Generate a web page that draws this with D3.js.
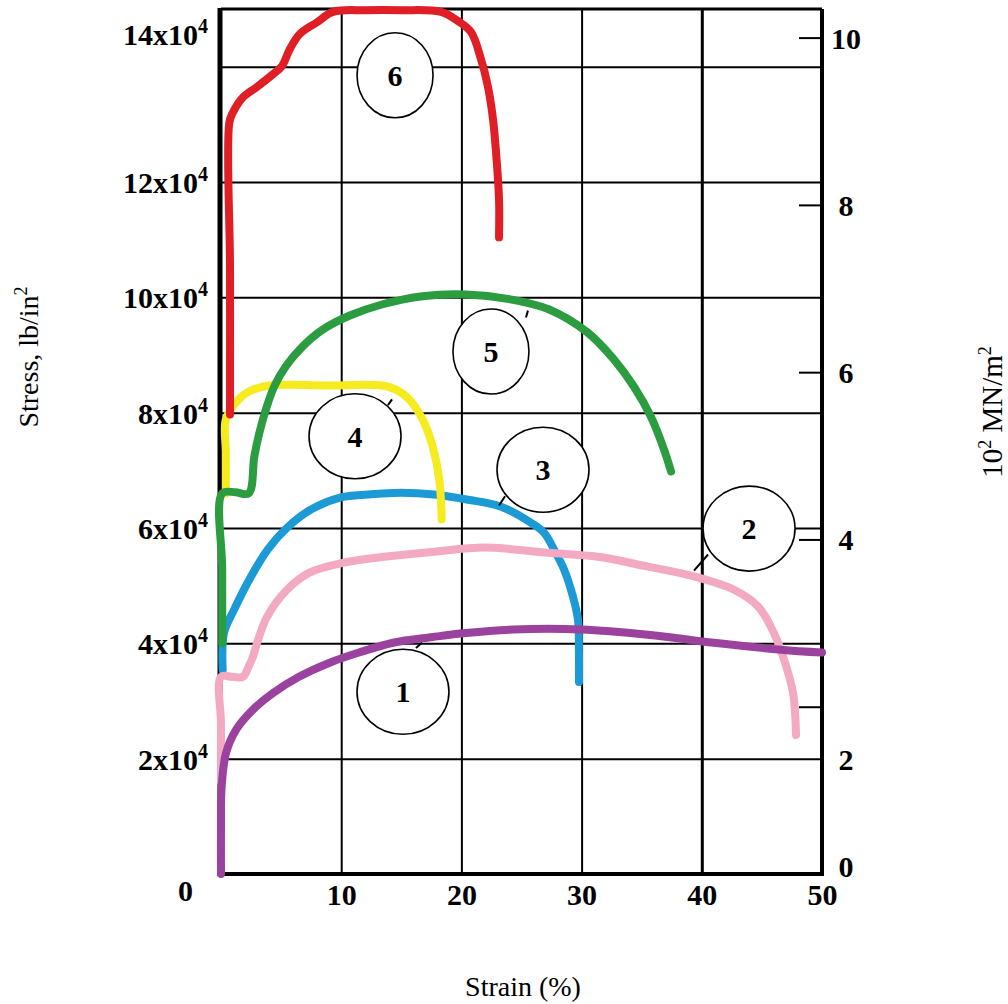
<!DOCTYPE html>
<html>
<head>
<meta charset="utf-8">
<script src="https://cdn.jsdelivr.net/npm/d3@7"></script>
<style>
  body { margin: 0; background: #fff; }
  svg { display: block; }
  text { font-family: "Liberation Serif", "Times New Roman", serif; }
</style>
</head>
<body>
<svg id="chart" width="1008" height="1004"></svg>
<script>
// strain in %, stress in 10^4 lb/in^2
const strainTicks = [10, 20, 30, 40, 50];
const stressTicks = [2, 4, 6, 8, 10, 12, 14];
const mnTicks = [0, 2, 4, 6, 8, 10];
const psiPerMN = 1.4504; // 1 x 10^2 MN/m^2 = 1.4504 x 10^4 lb/in^2

const curve1 = [[0,0],[0,0.8],[0.05,1.5],[0.42,2.1],[1.25,2.5],[2.66,2.85],[4.33,3.14],[6.49,3.42],[8.99,3.66],[11.48,3.84],[14.31,4.01],[17.64,4.11],[20.38,4.18],[24.38,4.24],[29.95,4.24],[35.52,4.15],[41.01,4.01],[46.59,3.89],[50,3.84]];
const curve2 = [[0,1.6],[0,2.6],[0,3.42],[0.9,3.42],[1.83,3.42],[2.3,3.6],[2.66,3.77],[3.08,4.06],[3.83,4.46],[5.49,4.93],[7.4,5.23],[10.23,5.4],[13.56,5.5],[17.72,5.59],[21.88,5.66],[27.2,5.57],[31.36,5.5],[35.52,5.33],[39.35,5.16],[42.68,4.93],[44.68,4.64],[46.0,4.18],[46.84,3.72],[47.59,3.14],[47.84,2.41]];
const curve3 = [[0.14,3.54],[0.25,4.18],[1.08,4.58],[2.5,5.16],[3.9,5.63],[5.57,6.02],[7.49,6.32],[9.98,6.53],[12.23,6.58],[14.98,6.61],[17.72,6.58],[20.55,6.49],[23.3,6.37],[25.8,6.09],[26.87,5.92],[27.7,5.63],[28.54,5.28],[29.28,4.81],[29.7,4.41],[29.78,3.84],[29.78,3.33]];
const curve4 = [[0.4,6.6],[0.4,7.3],[0.4,7.88],[1.25,8.18],[2.36,8.37],[4.0,8.47],[8.7,8.47],[13.45,8.47],[14.56,8.4],[15.66,8.23],[16.78,7.88],[17.6,7.42],[18.16,6.84],[18.36,6.15]];
const curve5 = [[0.1,4.0],[0.1,5.3],[0.1,6.6],[1.2,6.62],[2.3,6.6],[2.77,7.24],[3.19,7.65],[3.74,8.06],[4.44,8.46],[5.41,8.81],[6.8,9.15],[8.46,9.44],[10.67,9.68],[13.45,9.88],[16.78,10.02],[20.38,10.05],[23.98,9.97],[27.3,9.79],[30.5,9.39],[32.7,8.92],[34.36,8.45],[35.77,7.93],[36.86,7.36],[37.44,6.98]];
const curve6 = [[0.75,7.97],[0.75,10.5],[0.7,13.04],[1.0,13.21],[1.83,13.47],[3.0,13.65],[4.33,13.87],[5.07,14.01],[5.74,14.31],[6.57,14.57],[7.99,14.77],[9.32,14.95],[12,14.98],[15,14.98],[18.3,14.95],[19.72,14.79],[20.8,14.6],[21.63,14.13],[22.2,13.66],[22.63,13.09],[22.88,12.52],[23.13,11.7],[23.13,11.04]];

// drawn bottom to top
const series = [
  { id: "3", points: curve3, color: "#1b9ad6" },
  { id: "2", points: curve2, color: "#f4a9c3" },
  { id: "1", points: curve1, color: "#9a429e" },
  { id: "4", points: curve4, color: "#f6eb1f" },
  { id: "5", points: curve5, color: "#2b9c40" },
  { id: "6", points: curve6, color: "#e01e26" }
];

// circled numbers: centre and a short leader toward the curve
const bubbles = [
  { id: "1", x: 15.14, y: 3.16, leader: [16.72, 4.01, 16.22, 3.92] },
  { id: "2", x: 43.93, y: 5.99, leader: [40.52, 5.54, 39.35, 5.26] },
  { id: "3", x: 26.79, y: 7.01, leader: [23.63, 6.55, 23.13, 6.39] },
  { id: "4", x: 11.15, y: 7.59, leader: [14.23, 8.23, 13.89, 8.13] },
  { id: "5", x: 22.46, y: 9.06, leader: [25.54, 9.77, 25.37, 9.65] },
  { id: "6", x: 14.48, y: 13.85, leader: null }
];

const svg = d3.select("#chart");
const pLeft = 221, pRight = 822, pTop = 9, pBottom = 874;

const x = d3.scaleLinear().domain([0, 50]).range([pLeft, pRight]);
const y = d3.scaleLinear().domain([0, 15]).range([pBottom, pTop]);
const yMN = d3.scaleLinear().domain([0, 15 / psiPerMN]).range([pBottom, pTop]);

// grid
svg.append("g")
  .attr("transform", "translate(0," + pBottom + ")")
  .call(d3.axisBottom(x).tickValues([10, 20, 30, 40]).tickSize(-(pBottom - pTop)).tickFormat(""))
  .call(g => g.select(".domain").remove())
  .call(g => g.selectAll("line").attr("stroke", "#000").attr("stroke-width", d => d === 40 ? 3 : 2));

svg.append("g")
  .attr("transform", "translate(" + pLeft + ",0)")
  .call(d3.axisLeft(y).tickValues(stressTicks).tickSize(-(pRight - pLeft)).tickFormat(""))
  .call(g => g.select(".domain").remove())
  .call(g => g.selectAll("line").attr("stroke", "#000").attr("stroke-width", 2));

// right-hand MN/m^2 ticks, pointing inward
const rightAxis = svg.append("g")
  .attr("transform", "translate(" + pRight + ",0)")
  .call(d3.axisRight(yMN).tickValues(mnTicks).tickSize(-23).tickPadding(0))
  .call(g => g.select(".domain").remove());
rightAxis.selectAll("line").attr("stroke", "#000").attr("stroke-width", 2);
rightAxis.selectAll("text")
  .attr("x", 24)
  // the original prints the "2" beside the 2x10^4 lb/in^2 line, and "0" just above the base
  .attr("y", d => d === 2 ? y(2) - yMN(2) : d === 0 ? -8 : 0)
  .attr("dy", "0.35em")
  .attr("text-anchor", "middle")
  .attr("fill", "#000")
  .style("font-family", "'Liberation Serif', serif")
  .style("font-weight", "bold").style("font-size", "30px");

// frame
const frame = svg.append("g").attr("stroke", "#000").attr("fill", "none");
frame.append("line").attr("x1", pLeft).attr("x2", pRight).attr("y1", pTop).attr("y2", pTop).attr("stroke-width", 3);
frame.append("line").attr("x1", pRight).attr("x2", pRight).attr("y1", pTop).attr("y2", pBottom).attr("stroke-width", 4);
frame.append("line").attr("x1", pLeft - 2).attr("x2", pRight + 2).attr("y1", pBottom).attr("y2", pBottom).attr("stroke-width", 4);
frame.append("line").attr("x1", pLeft - 1).attr("x2", pLeft - 1).attr("y1", pTop - 1).attr("y2", pBottom + 2).attr("stroke-width", 5);

// curves
const line = d3.line()
  .x(d => x(d[0]))
  .y(d => y(d[1]))
  .curve(d3.curveCatmullRom.alpha(0.5));

svg.append("g").selectAll("path")
  .data(series)
  .join("path")
  .attr("d", d => line(d.points))
  .attr("fill", "none")
  .attr("stroke", d => d.color)
  .attr("stroke-width", 8)
  .attr("stroke-linecap", "round")
  .attr("stroke-linejoin", "round");

// bottom axis labels
const xAxis = svg.append("g")
  .attr("transform", "translate(0," + pBottom + ")")
  .call(d3.axisBottom(x).tickValues(strainTicks).tickSize(0).tickPadding(10))
  .call(g => g.select(".domain").remove());
xAxis.selectAll("text")
  .attr("fill", "#000")
  .style("font-family", "'Liberation Serif', serif")
  .style("font-weight", "bold").style("font-size", "30px");

// left axis labels with superscript
const yAxis = svg.append("g")
  .attr("transform", "translate(" + pLeft + ",0)")
  .call(d3.axisLeft(y).tickValues(stressTicks).tickSize(0).tickPadding(13).tickFormat(""))
  .call(g => g.select(".domain").remove());
yAxis.selectAll("text")
  .attr("fill", "#000")
  .attr("dy", d => d === 14 ? "-0.75em" : "0.35em")
  .style("font-family", "'Liberation Serif', serif")
  .style("font-weight", "bold").style("font-size", "30px")
  .each(function (d) {
    const t = d3.select(this);
    t.append("tspan").text(d + "x10");
    t.append("tspan").attr("dy", -12).style("font-size", "20px").text("4");
  });

// corner zero
svg.append("text")
  .attr("x", pLeft - 28).attr("y", pBottom + 27)
  .attr("text-anchor", "end")
  .style("font-weight", "bold").style("font-size", "30px")
  .text("0");

// circled curve numbers
const bub = svg.append("g").selectAll("g")
  .data(bubbles)
  .join("g");
bub.filter(d => d.leader)
  .append("line")
  .attr("x1", d => x(d.leader[0])).attr("y1", d => y(d.leader[1]))
  .attr("x2", d => x(d.leader[2])).attr("y2", d => y(d.leader[3]))
  .attr("stroke", "#000").attr("stroke-width", 2);
bub.append("ellipse")
  .attr("cx", d => x(d.x)).attr("cy", d => y(d.y))
  .attr("rx", d => (d.id === "5" || d.id === "6") ? 38 : 46)
  .attr("ry", 42.5)
  .attr("fill", "#fff").attr("stroke", "#000").attr("stroke-width", 1.6);
bub.append("text")
  .attr("x", d => x(d.x)).attr("y", d => y(d.y))
  .attr("dy", "0.35em")
  .attr("text-anchor", "middle")
  .style("font-weight", "bold").style("font-size", "30px")
  .text(d => d.id);

// axis titles
const leftTitle = svg.append("text")
  .attr("transform", "translate(38,357) rotate(-90)")
  .attr("text-anchor", "middle")
  .style("font-size", "28px");
leftTitle.append("tspan").text("Stress, lb/in");
leftTitle.append("tspan").attr("dy", -11).style("font-size", "18px").text("2");

const rightTitle = svg.append("text")
  .attr("transform", "translate(1002,412) rotate(-90)")
  .attr("text-anchor", "middle")
  .style("font-size", "29px");
rightTitle.append("tspan").text("10");
rightTitle.append("tspan").attr("dy", -11).style("font-size", "18px").text("2");
rightTitle.append("tspan").attr("dy", 11).text(" MN/m");
rightTitle.append("tspan").attr("dy", -11).style("font-size", "18px").text("2");

svg.append("text")
  .attr("x", 523).attr("y", 996)
  .attr("text-anchor", "middle")
  .style("font-size", "28px")
  .text("Strain (%)");
</script>
</body>
</html>
